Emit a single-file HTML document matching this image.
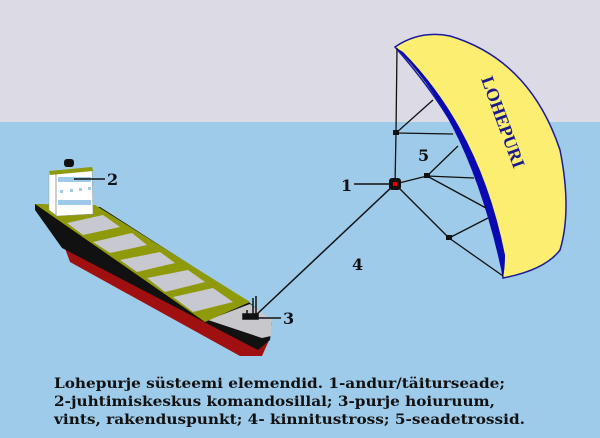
<!DOCTYPE html>
<html><head><meta charset="utf-8"><style>html,body{margin:0;padding:0;background:#9ecbe9}svg{display:block}</style></head><body>
<svg width="600" height="438" viewBox="0 0 600 438" xmlns="http://www.w3.org/2000/svg" font-family="DejaVu Serif, Liberation Serif, serif" font-weight="bold">
<rect x="0" y="0" width="600" height="438" fill="#9ecbe9"/>
<rect x="0" y="0" width="600" height="122" fill="#dcdae5"/>
<!-- ship hull -->
<path d="M62,240 L258,348 L270,338 L262,356 L240,356 L70,262 Z" fill="#a01010"/>
<path d="M35,204 L100,207 L250,303 L272,322 L270,340 L258,350 L62,248 L35,210 Z" fill="#111"/>
<path d="M208,320 L250,304 L272,320 L271,336 L262,338 Z" fill="#c8c8cc"/>
<path d="M35,204 L95,205 L250,302 L205,322 Z" fill="#8f9a0a"/>
<g fill="#c8c8d0">
<path d="M67,223 L103,215 L120,227 L83,235 Z"/>
<path d="M93,242 L132,233 L147,245 L110,253 Z"/>
<path d="M120,260 L160,252 L175,263 L137,272 Z"/>
<path d="M147,278 L188,270 L205,282 L165,292 Z"/>
<path d="M173,297 L213,288 L233,302 L193,312 Z"/>
</g>
<!-- superstructure -->
<rect x="64" y="159" width="10" height="8" rx="3" fill="#111"/>
<path d="M49,172 L92,168 L93,214 L57,216 L49,210 Z" fill="#fff" stroke="#999" stroke-width="0.5"/>
<path d="M49,171 L92,167 L93,171 L50,175 Z" fill="#8f9a0a"/>
<line x1="56" y1="174" x2="56" y2="215" stroke="#888" stroke-width="0.8"/>
<rect x="58" y="177" width="33" height="5" fill="#9ecbe9"/>
<rect x="58" y="200" width="33" height="5" fill="#9ecbe9"/>
<g fill="#9ecbe9"><rect x="60" y="190" width="3" height="3"/><rect x="70" y="189" width="3" height="3"/><rect x="79" y="188" width="3" height="3"/><rect x="88" y="187" width="3" height="3"/></g>
<line x1="74" y1="179" x2="105" y2="179" stroke="#111" stroke-width="1.5"/>
<text x="107" y="185" font-size="16" fill="#111">2</text>
<!-- winch -->
<g stroke="#111" stroke-width="1.5" fill="none">
<line x1="253" y1="298" x2="253" y2="316"/><line x1="256" y1="296" x2="256" y2="316"/>
<rect x="243" y="314" width="15" height="5" fill="#111"/>
<line x1="247" y1="310" x2="247" y2="314"/>
<line x1="258" y1="318" x2="281" y2="318"/>
</g>
<text x="283" y="324" font-size="16" fill="#111">3</text>
<!-- tether -->
<line x1="255" y1="316" x2="395" y2="184" stroke="#111" stroke-width="1.5"/>
<text x="352" y="270" font-size="16" fill="#111">4</text>
<!-- kite -->
<path d="M395,47 Q420,30 450,36 Q530,60 560,150 Q572,210 560,250 Q545,270 503,278 Q495,160 395,47 Z" fill="#fcee70" stroke="#1a1aa0" stroke-width="1.5"/>
<path d="M395,47 Q470,120 503,278 Q505,268 505,255 Q480,130 403,52 Z" fill="#0a0ab0"/>
<text transform="translate(481,79) rotate(70)" font-size="18" fill="#1a1a8a" font-family="Liberation Serif, serif">LOHEPURI</text>
<g stroke="#111" stroke-width="1.3" fill="none">
<line x1="397" y1="48" x2="396" y2="133"/>
<line x1="396" y1="133" x2="395" y2="184"/>
<line x1="396" y1="133" x2="453" y2="134"/>
<line x1="396" y1="133" x2="433" y2="100"/>
<line x1="395" y1="184" x2="427" y2="176"/>
<line x1="427" y1="176" x2="474" y2="178"/>
<line x1="427" y1="176" x2="458" y2="146"/>
<line x1="427" y1="176" x2="486" y2="208"/>
<line x1="395" y1="184" x2="449" y2="238"/>
<line x1="449" y1="238" x2="488" y2="218"/>
<line x1="449" y1="238" x2="503" y2="276"/>
<line x1="354" y1="184" x2="392" y2="184" stroke-width="1.6"/>
</g>
<g fill="#111"><rect x="393" y="130" width="6" height="5"/><rect x="424" y="173" width="6" height="5"/><rect x="446" y="235" width="6" height="5"/></g>
<rect x="389" y="178" width="12" height="12" rx="3" fill="#111"/>
<rect x="393" y="182" width="4" height="4" fill="#e00"/>
<text x="341" y="191" font-size="16" fill="#111">1</text>
<text x="418" y="161" font-size="16" fill="#111">5</text>
<!-- caption -->
<g font-size="14" fill="#111">
<text x="54" y="388" textLength="451" lengthAdjust="spacingAndGlyphs">Lohepurje süsteemi elemendid. 1-andur/täiturseade;</text>
<text x="54" y="406" textLength="441" lengthAdjust="spacingAndGlyphs">2-juhtimiskeskus komandosillal; 3-purje hoiuruum,</text>
<text x="54" y="424" textLength="471" lengthAdjust="spacingAndGlyphs">vints, rakenduspunkt; 4- kinnitustross; 5-seadetrossid.</text>
</g>
</svg>
</body></html>
